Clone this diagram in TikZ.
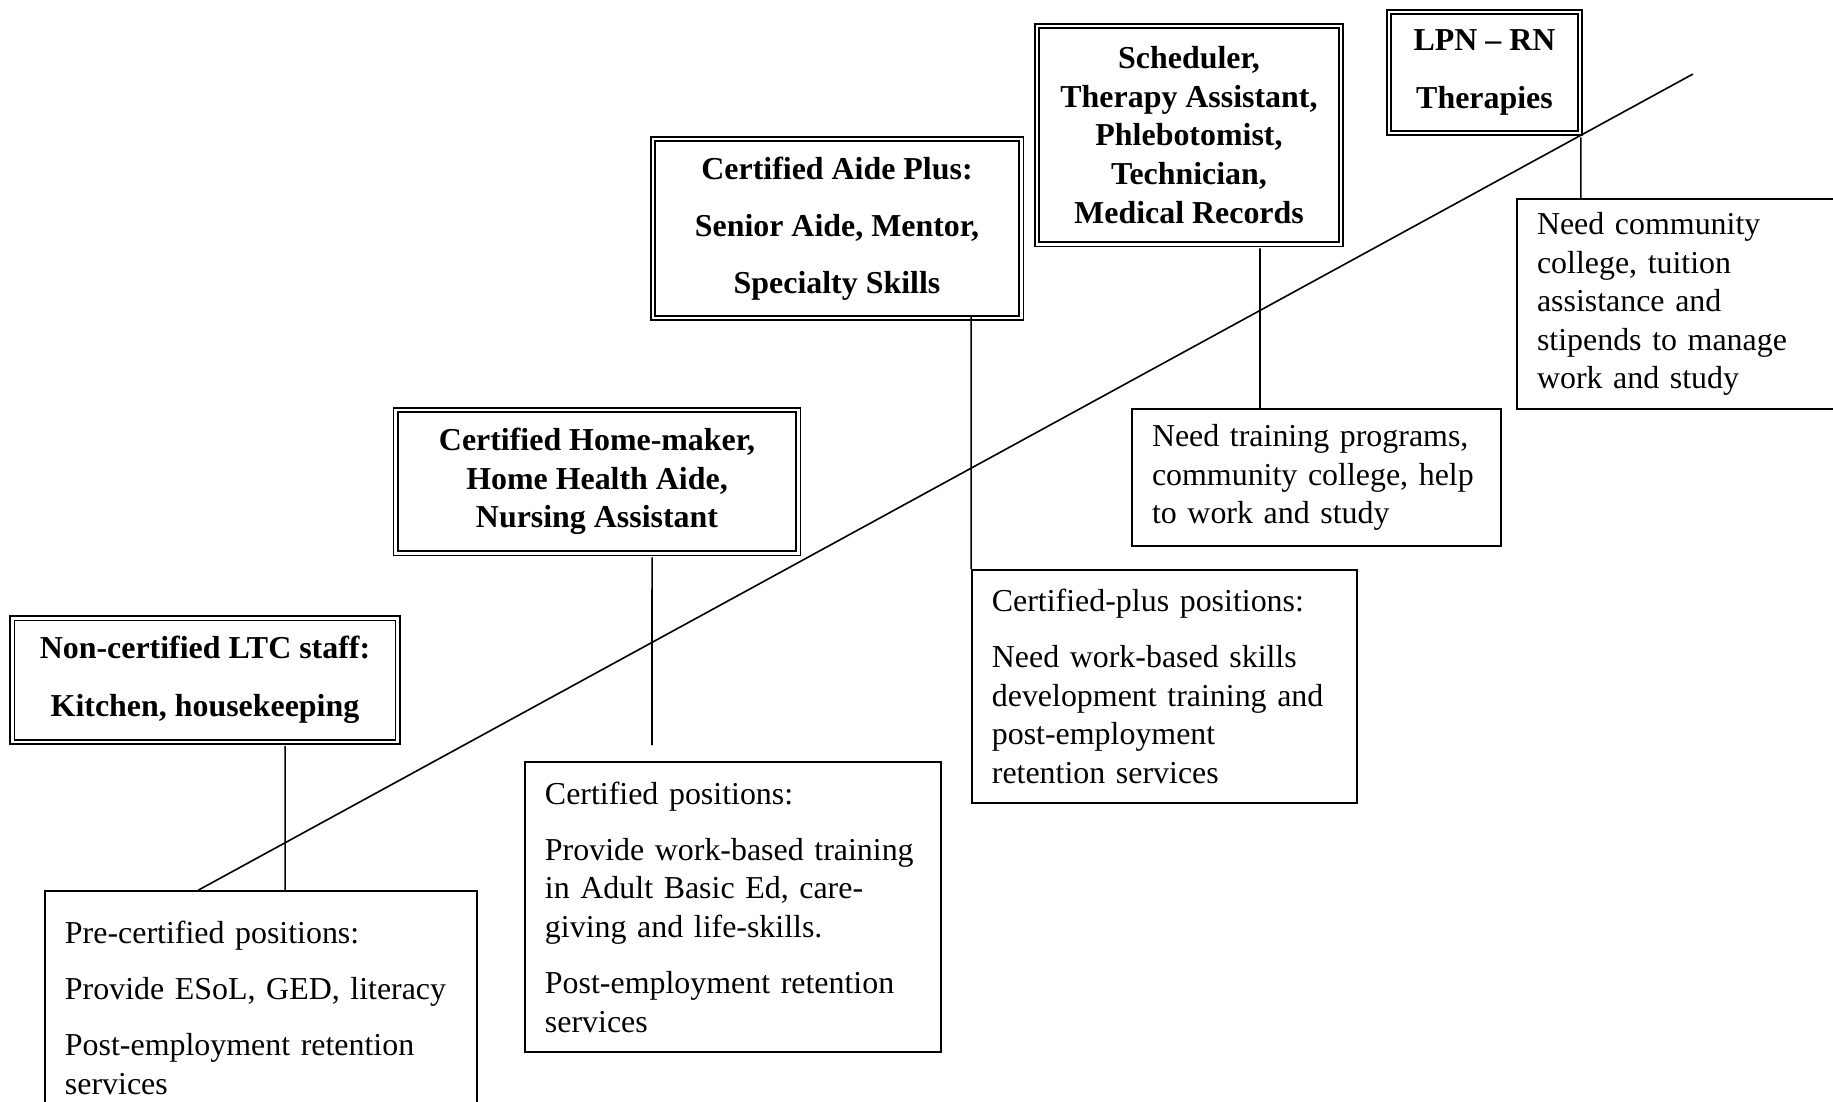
\documentclass[tikz,border=0pt]{standalone}
\usepackage{fontspec}
\setmainfont{Liberation Serif}
\usepackage{tikz}
\tikzset{rung/.style={draw,double,line width=0.7pt,double distance=1.1pt,align=center,inner sep=0pt,font=\bfseries\fontsize{12}{14.5}\selectfont}}
\tikzset{need/.style={draw,line width=0.6pt,align=left,inner ysep=0pt,inner xsep=7.5pt,font=\fontsize{12}{14.5}\selectfont}}
\tikzset{link/.style={line width=0.6pt}}

\begin{document}
\begin{tikzpicture}[x=0.376pt,y=-0.376pt]
  \useasboundingbox (0,0) rectangle (1833,1101);
  % career ladder rungs
  \node(noncert)[rung,minimum width=145.1pt,minimum height=46.6pt] at (205,680)
    {Non-certified LTC staff:\\[7.3pt]Kitchen, housekeeping};
  \node(homemaker)[rung,minimum width=151.2pt,minimum height=53.8pt] at (597,481.5)
    {Certified Home-maker,\\Home Health Aide,\\Nursing Assistant};
  \node(aideplus)[rung,minimum width=138.4pt,minimum height=67.3pt] at (837,228.5)
    {Certified Aide Plus:\\[7pt]Senior Aide, Mentor,\\[7pt]Specialty Skills};
  \node(sched)[rung,minimum width=114.3pt,minimum height=82pt] at (1189,135)
    {Scheduler,\\Therapy Assistant,\\Phlebotomist,\\Technician,\\Medical Records};
  \node(lpn)[rung,minimum width=71.8pt,minimum height=45.5pt] at (1484.5,72.5)
    {LPN -- RN\\[7.3pt]Therapies};
  % what each step needs
  \node(precert)[need,minimum width=162.4pt,text width=147.4pt,minimum height=88pt] at (261,1008)
    {Pre-certified positions:\\[6.6pt]Provide ESoL, GED, literacy\\[6.6pt]Post-employment retention\\services};
  \node(certpos)[need,minimum width=156.4pt,text width=141.4pt,minimum height=109pt] at (733,907)
    {Certified positions:\\[6.6pt]Provide work-based training\\in Adult Basic Ed, care-\\giving and life-skills.\\[6.6pt]Post-employment retention\\services};
  \node(plus)[need,minimum width=144.8pt,text width=129.8pt,minimum height=87.6pt] at (1164.5,686.5)
    {Certified-plus positions:\\[6.6pt]Need work-based skills\\development training and\\post-employment\\retention services};
  \node(training)[need,minimum width=138.7pt,text width=123.7pt,minimum height=51.5pt] at (1316.5,477.5)
    {Need training programs,\\community college, help\\to work and study};
  \node(community)[need,minimum width=121.4pt,text width=106.4pt,minimum height=79pt] at (1678.5,304)
    {Need community\\college, tuition\\assistance and\\stipends to manage\\work and study};
  \coordinate(hmfoot) at (652,745);
  \coordinate(ridgetop) at (1693,74);
  \draw[link]
    ([xshift=30.1pt,yshift=-1.25pt]noncert.south) -- ([xshift=30.1pt]noncert.south |- precert.north)
    ([xshift=20.7pt,yshift=-1.25pt]homemaker.south) -- (hmfoot)
    ([yshift=1.25pt]aideplus.south -| plus.north west) -- (plus.north west)
    ([xshift=26.7pt,yshift=-1.25pt]sched.south) -- ([xshift=26.7pt]sched.south |- training.north)
    ([yshift=-1.25pt]lpn.south east) -- (lpn.south east |- community.north)
    ([xshift=57.9pt]precert.north west) -- (ridgetop);
\end{tikzpicture}
\end{document}
